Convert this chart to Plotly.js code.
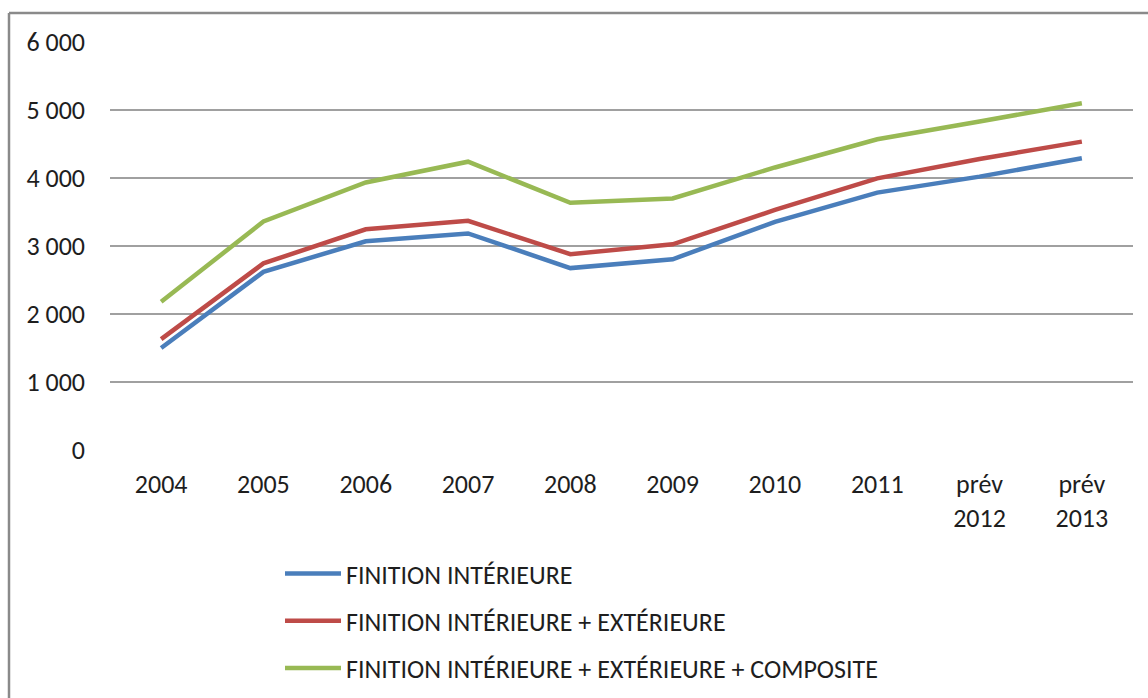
<!DOCTYPE html>
<html>
<head>
<meta charset="utf-8">
<script src="https://cdn.plot.ly/plotly-3.0.1.min.js"></script>
<style>
  html, body { margin: 0; padding: 0; background: #fff; }
  #chart { width: 1148px; height: 698px; }
</style>
</head>
<body>
<div id="chart"></div>
<script>
// Categories (x axis)
const categories = ["2004", "2005", "2006", "2007", "2008", "2009", "2010", "2011", "prév<br>2012", "prév<br>2013"];

// Series values
const seriesNames = [
  "FINITION INTÉRIEURE",
  "FINITION INTÉRIEURE + EXTÉRIEURE",
  "FINITION INTÉRIEURE + EXTÉRIEURE + COMPOSITE"
];
const finitionInterieure = [1500, 2620, 3070, 3185, 2675, 2805, 3355, 3785, 4020, 4290];
const finitionIntExt = [1630, 2745, 3245, 3370, 2880, 3025, 3530, 3995, 4280, 4535];
const finitionIntExtComposite = [2180, 3360, 3935, 4240, 3635, 3700, 4155, 4570, 4830, 5100];

// Y tick values
const yTicks = [0, 1000, 2000, 3000, 4000, 5000, 6000];

const colors = ["#4A7EBB", "#BE4B48", "#98B954"];
const values = [finitionInterieure, finitionIntExt, finitionIntExtComposite];

const FONT = "Carlito, Calibri, Lato, sans-serif";
const FS = 26;

const traces = values.map((v, i) => ({
  type: "scatter",
  mode: "lines",
  x: categories,
  y: v,
  name: seriesNames[i],
  legendgroup: "g" + i,
  line: { color: colors[i], width: 4.5 },
  hoverinfo: "x+y"
}));

// Chart outer frame (pixel positions converted to paper coords)
const L = 110, R = 15, T = 42, B = 248, W = 1148, H = 698;
const pw = W - L - R, ph = H - T - B;
const px = x => (x - L) / pw;
const py = y => (H - B - y) / ph;

const layout = {
  width: W,
  height: H,
  margin: { l: L, r: R, t: T, b: B, pad: 0, autoexpand: false },
  paper_bgcolor: "#ffffff",
  plot_bgcolor: "#ffffff",
  separators: ", ",
  font: { family: FONT, size: FS, color: "#1e1e1e" },
  showlegend: true,
  legend: {
    orientation: "v",
    x: px(280),
    xanchor: "left",
    y: py(550),
    yanchor: "top",
    traceorder: "grouped",
    tracegroupgap: 10.5,
    itemwidth: 56,
    font: { family: FONT, size: FS, color: "#1e1e1e" },
    bgcolor: "rgba(0,0,0,0)"
  },
  xaxis: {
    type: "category",
    range: [-0.5, categories.length - 0.5],
    showgrid: false,
    zeroline: false,
    showline: false,
    ticks: "",
    ticklabelstandoff: 16,
    tickfont: { family: FONT, size: FS, color: "#1e1e1e" },
    fixedrange: true
  },
  yaxis: {
    range: [0, 6000],
    tickvals: yTicks,
    separatethousands: true,
    tickformat: ",d",
    showgrid: true,
    gridcolor: "#a0a0a0",
    gridwidth: 1.5,
    zeroline: false,
    showline: false,
    ticks: "",
    ticklabelstandoff: 24,
    tickfont: { family: FONT, size: FS, color: "#1e1e1e" },
    fixedrange: true
  },
  shapes: [
    { type: "line", xref: "paper", yref: "paper", x0: px(9), x1: px(9), y0: py(H + 5), y1: py(13),
      line: { color: "#8a8a8a", width: 2.5 } },
    { type: "line", xref: "paper", yref: "paper", x0: px(9), x1: px(W + 5), y0: py(13), y1: py(13),
      line: { color: "#8a8a8a", width: 2.5 } }
  ]
};

Plotly.newPlot("chart", traces, layout, { displayModeBar: false, staticPlot: true });
</script>
</body>
</html>
